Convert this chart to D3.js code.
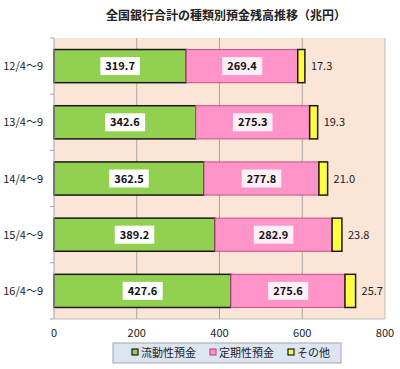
<!DOCTYPE html>
<html><head><meta charset="utf-8">
<script src="https://cdn.jsdelivr.net/npm/d3@7"></script>
<style>body{margin:0;background:#fff;} svg{display:block;font-family:"Noto Sans CJK JP","Noto Sans",sans-serif;}</style>
</head><body><svg id="c" width="400" height="369"></svg>
<script>
const categories = ["12/4～9","13/4～9","14/4～9","15/4～9","16/4～9"];
const liquid = [319.7,342.6,362.5,389.2,427.6];
const fixed = [269.4,275.3,277.8,282.9,275.6];
const other = [17.3,19.3,21.0,23.8,25.7];
const seriesNames = ["流動性預金","定期性預金","その他"];
const xTicks = [0,200,400,600,800];

const svg = d3.select("#c");
const L=54,R=385,T=38,B=319;
const x = d3.scaleLinear().domain([0,800]).range([L,R]);
const y = d3.scaleBand().domain(categories).range([T,B]).paddingInner(0.41).paddingOuter(0.205);

svg.append("text").attr("x",226).attr("y",20).attr("text-anchor","middle")
  .attr("font-size",12).attr("font-weight","bold").attr("fill","#222").text("全国銀行合計の種類別預金残高推移（兆円）");

svg.append("rect").attr("x",L).attr("y",T).attr("width",R-L).attr("height",B-T).attr("fill","#FBE5D6");
svg.append("line").attr("x1",R).attr("x2",R).attr("y1",T).attr("y2",B).attr("stroke","#BFBFBF");
svg.append("line").attr("x1",L).attr("x2",R).attr("y1",B).attr("y2",B).attr("stroke","#BFBFBF");
svg.selectAll(".g").data(xTicks.slice(1,-1)).join("line").attr("x1",d=>x(d)).attr("x2",d=>x(d))
  .attr("y1",T).attr("y2",B).attr("stroke","#A6A6A6").attr("stroke-width",1);

const colors = ["#92D050","#FF94C9","#FFFF40"];
const strokes = ["#1a1a1a","#C8508A","#1a1a1a"];
const data = categories.map((c,i)=>({c,v:[liquid[i],fixed[i],other[i]]}));
data.forEach(d=>{
  let s=0;
  d.v.forEach((v,k)=>{
    svg.append("rect").attr("x",x(s)).attr("y",y(d.c)).attr("width",x(s+v)-x(s)).attr("height",y.bandwidth())
      .attr("fill",colors[k]).attr("stroke",strokes[k]).attr("stroke-width",k==1?1:1.5);
    const cx = (x(s)+x(s+v))/2, cy=y(d.c)+y.bandwidth()/2;
    if(k<2){
      const g=svg.append("g");
      const t=g.append("text").attr("x",cx).attr("y",cy+4).attr("text-anchor","middle").attr("font-size",11)
        .attr("font-weight","bold").attr("fill","#111").text(v.toFixed(1));
      const bb=t.node().getBBox();
      g.insert("rect","text").attr("x",bb.x-5).attr("y",cy-9).attr("width",bb.width+10).attr("height",18).attr("fill","#fff")
        .attr("fill-opacity",k==1?0.85:1);
    } else {
      svg.append("text").attr("x",x(s+v)+6).attr("y",cy+4).attr("font-size",11).attr("fill","#222").text(v.toFixed(1));
    }
    s+=v;
  });
});

// left axis
svg.append("line").attr("x1",L).attr("x2",L).attr("y1",T).attr("y2",B).attr("stroke","#A6A6A6");
const bounds = d3.range(categories.length+1).map(i=>T+i*(B-T)/categories.length);
svg.selectAll(".yt").data(bounds).join("line").attr("x1",L-4).attr("x2",L).attr("y1",d=>d).attr("y2",d=>d).attr("stroke","#A6A6A6");
svg.selectAll(".yl").data(categories).join("text").attr("x",43).attr("y",d=>y(d)+y.bandwidth()/2+4)
  .attr("text-anchor","end").attr("font-size",11).attr("fill","#222").text(d=>d);
svg.selectAll(".xl").data(xTicks).join("text").attr("x",d=>x(d)).attr("y",337)
  .attr("text-anchor","middle").attr("font-size",11).attr("fill","#222").text(d=>d);

// legend
const lg=svg.append("g");
lg.append("rect").attr("x",113).attr("y",343).attr("width",228).attr("height",20).attr("fill","#DCE6F2").attr("stroke","#A6A6A6");
const lx=[132,210,288];
seriesNames.forEach((n,k)=>{
  lg.append("rect").attr("x",lx[k]).attr("y",349).attr("width",6).attr("height",6).attr("fill",colors[k]).attr("stroke",strokes[k]).attr("stroke-width",1.2);
  lg.append("text").attr("x",lx[k]+9).attr("y",357).attr("font-size",11).attr("fill","#222").text(n);
});
</script></body></html>
